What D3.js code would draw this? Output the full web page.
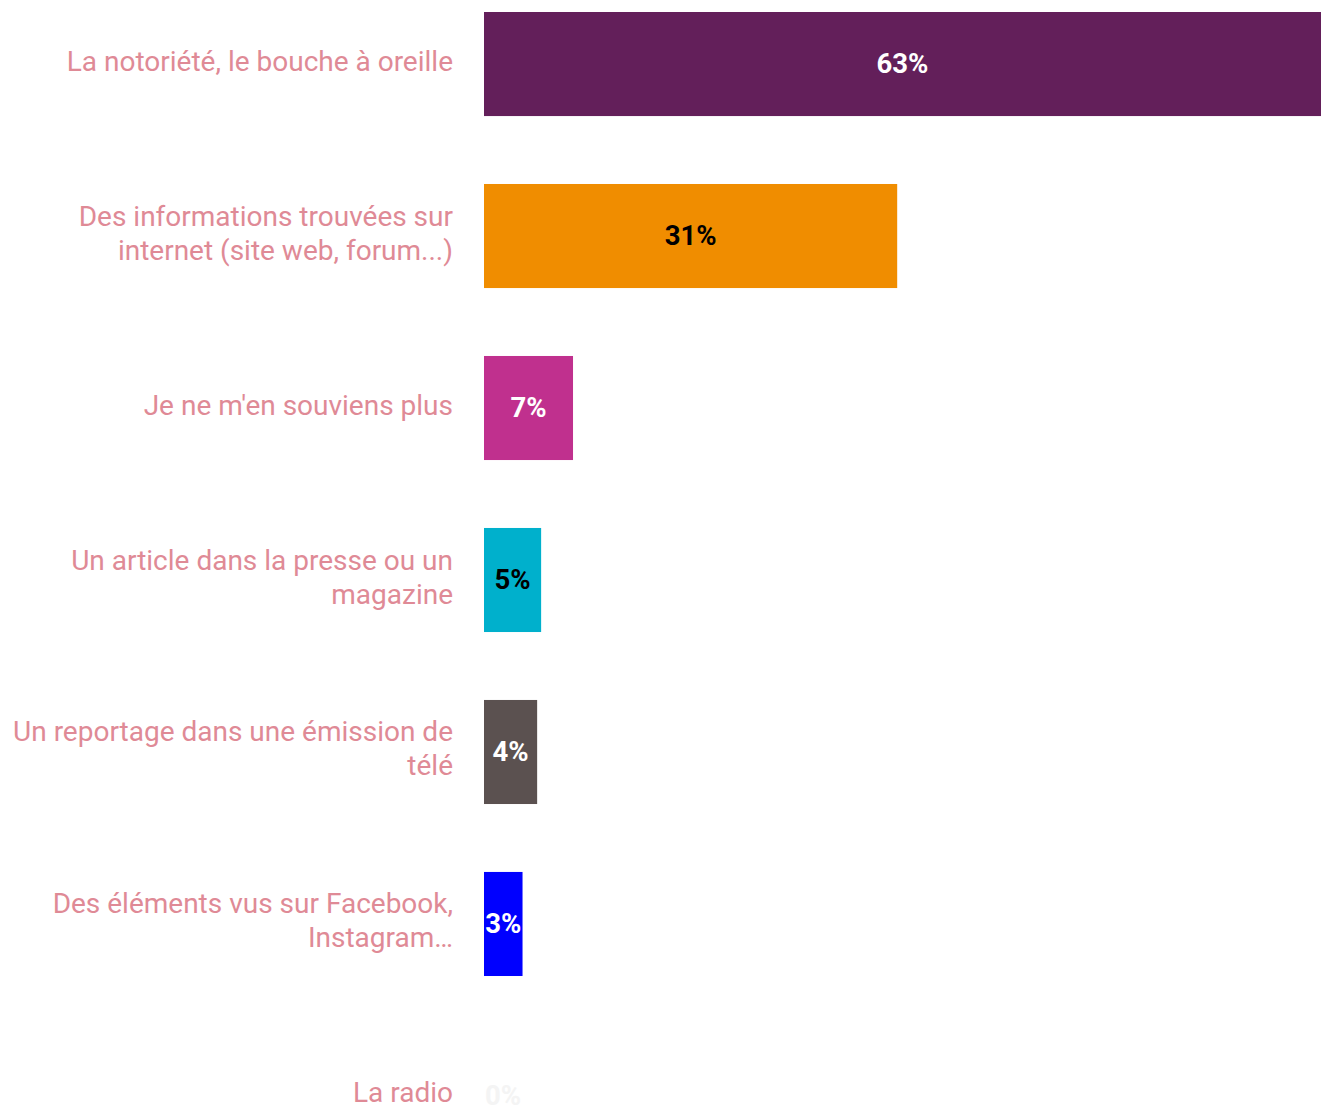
<!DOCTYPE html>
<html>
<head>
<meta charset="utf-8">
<script src="https://cdn.jsdelivr.net/npm/d3@7"></script>
<style>
  body { margin: 0; background: #fff; }
  svg { display: block; font-family: Roboto, sans-serif; }
</style>
</head>
<body>
<div id="chart"></div>
<script>
const categories = [
  ['La notoriété, le bouche à oreille'],
  ['Des informations trouvées sur', 'internet (site web, forum...)'],
  ["Je ne m'en souviens plus"],
  ['Un article dans la presse ou un', 'magazine'],
  ['Un reportage dans une émission de', 'télé'],
  ['Des éléments vus sur Facebook,', 'Instagram…'],
  ['La radio']
]
const values = [63, 31.1, 6.7, 4.3, 4.0, 2.9, 0]
const valueLabels = ['63%', '31%', '7%', '5%', '4%', '3%', '0%']
const colors = ['#631f5a', '#f08d00', '#c0308e', '#00b0cc', '#5b5150', '#0000ff', '#f4f4f4']
const labelColors = ['#fff', '#000', '#fff', '#000', '#fff', '#fff', '#f4f4f4']

const W = 1321, H = 1108
const margin = { left: 484, right: 0, top: 12 }

const svg = d3.select('#chart').append('svg')
  .attr('width', W)
  .attr('height', H)

const idx = d3.range(values.length)

const x = d3.scaleLinear().domain([0, 63]).range([margin.left, W - margin.right])
const y = d3.scaleBand().domain(idx)
  .range([margin.top, margin.top + 172 * 6 + 104])
  .paddingInner(0.395).paddingOuter(0)

/* bars */
svg.append('g').selectAll('rect').data(idx).join('rect')
  .attr('x', x(0))
  .attr('y', i => y(i))
  .attr('width', i => x(values[i]) - x(0))
  .attr('height', y.bandwidth())
  .attr('fill', i => colors[i])

/* value labels */
svg.append('g').selectAll('text').data(idx).join('text')
  .attr('x', i => Math.max((x(0) + x(values[i])) / 2, x(0) + 19))
  .attr('y', i => y(i) + y.bandwidth() / 2 - 1)
  .attr('dy', '0.36em')
  .attr('text-anchor', 'middle')
  .attr('font-size', 27.5)
  .attr('font-weight', 'bold')
  .attr('fill', i => labelColors[i])
  .text(i => valueLabels[i])

/* category labels */
const lab = svg.append('g').selectAll('text').data(idx).join('text')
  .attr('text-anchor', 'end')
  .attr('font-size', 28)
  .attr('fill', '#df8a96')
  .attr('y', i => y(i) + y.bandwidth() / 2 - 3 - (categories[i].length - 1) * 17)

lab.selectAll('tspan').data(i => categories[i]).join('tspan')
  .attr('x', 453)
  .attr('dy', (d, j) => j ? 34 : 0)
  .attr('dominant-baseline', 'central')
  .text(d => d)
</script>
</body>
</html>
